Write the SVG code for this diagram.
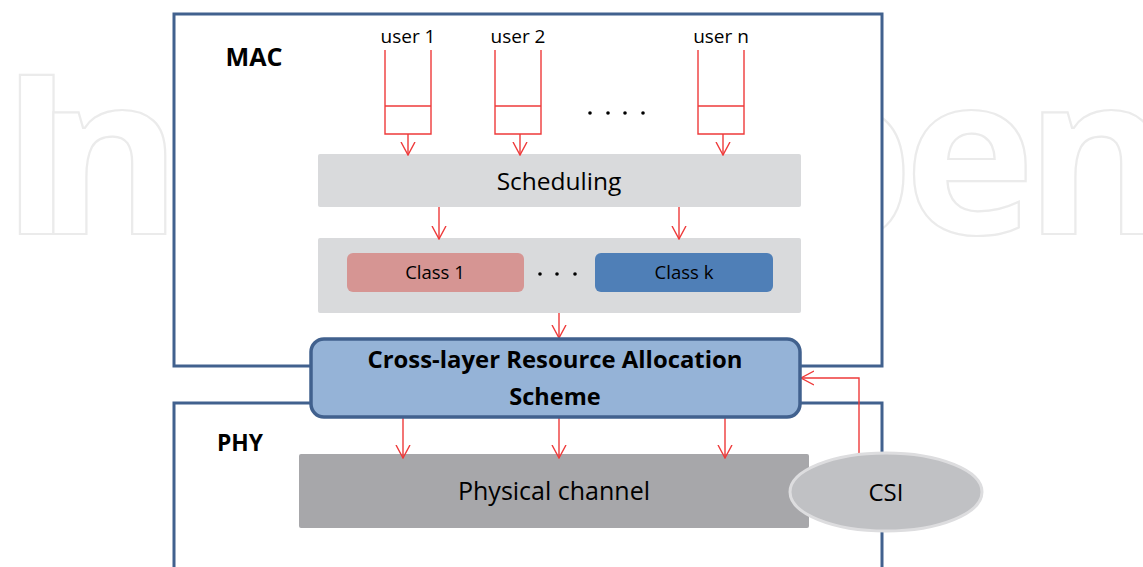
<svg xmlns="http://www.w3.org/2000/svg" width="1143" height="567" viewBox="0 0 1143 567">
<defs>
<style>
.wm{font-family:"Open Sans","Liberation Sans",sans-serif;font-weight:bold;font-size:222px;fill:#ffffff;stroke:#ebebeb;stroke-width:2.2}
.layer{fill:#ffffff;stroke:#41618e;stroke-width:3}
.t{font-family:"Open Sans","Liberation Sans",sans-serif;fill:#000000;text-anchor:middle}
.b{font-weight:bold}
.q{fill:none;stroke:#ee3a3a;stroke-width:1.4}
.c{fill:none;stroke:#ee3a3a;stroke-width:1.4;marker-end:url(#ah)}
.gray{fill:#d9dadc}
.dot{fill:#000000}
</style>
<marker id="ah" viewBox="0 0 14 16" refX="13" refY="8" markerWidth="14" markerHeight="16" orient="auto" markerUnits="userSpaceOnUse">
<path d="M0,1 L13,8 L0,15" fill="none" stroke="#ee3a3a" stroke-width="1.4"/>
</marker>
</defs>
<rect width="1143" height="567" fill="#ffffff"/>
<g id="watermark">
<text class="wm" x="0 36" y="234">In</text>
<text class="wm" x="773 904 1025" y="234">pen</text>
</g>

<g id="mac-layer">
<rect class="layer" x="174" y="14" width="708" height="352"/>
<text class="t b" x="254" y="66" font-size="25" textLength="57" lengthAdjust="spacingAndGlyphs">MAC</text>
</g>
<g id="phy-layer">
<rect class="layer" x="174" y="403" width="708" height="200"/>
<text class="t b" x="240" y="451" font-size="24" textLength="46" lengthAdjust="spacingAndGlyphs">PHY</text>
</g>

<g id="user1">
<text class="t" x="408" y="43" font-size="19">user 1</text>
<polyline class="q" points="385,50 385,134 431,134 431,50"/>
<line class="q" x1="385" y1="106" x2="431" y2="106"/>
</g>
<g id="user2">
<text class="t" x="518" y="43" font-size="19">user 2</text>
<polyline class="q" points="495,50 495,134 541,134 541,50"/>
<line class="q" x1="495" y1="106" x2="541" y2="106"/>
</g>
<g id="usern">
<text class="t" x="721" y="43" font-size="19">user n</text>
<polyline class="q" points="698,50 698,134 744,134 744,50"/>
<line class="q" x1="698" y1="106" x2="744" y2="106"/>
</g>
<g id="user-dots">
<circle class="dot" cx="590" cy="113" r="1.8"/>
<circle class="dot" cx="608" cy="113" r="1.8"/>
<circle class="dot" cx="625" cy="113" r="1.8"/>
<circle class="dot" cx="643" cy="113" r="1.8"/>
</g>

<g id="scheduling">
<rect class="gray" x="318" y="154" width="483" height="53" rx="2"/>
<text class="t" x="559" y="190" font-size="24.5">Scheduling</text>
</g>

<g id="classes">
<rect class="gray" x="318" y="238" width="483" height="75" rx="2"/>
<rect x="347" y="253" width="177" height="39" rx="6" fill="#d69593"/>
<text class="t" x="435" y="279" font-size="18.5">Class 1</text>
<circle class="dot" cx="540" cy="274" r="1.8"/>
<circle class="dot" cx="557" cy="274" r="1.8"/>
<circle class="dot" cx="575" cy="274" r="1.8"/>
<rect x="595" y="253" width="178" height="39" rx="6" fill="#4f7fb7"/>
<text class="t" x="684" y="279" font-size="18.5">Class k</text>
</g>

<g id="physical-channel">
<rect x="299" y="454" width="510" height="74" rx="2" fill="#a7a7aa"/>
<text class="t" x="554" y="500" font-size="25">Physical channel</text>
</g>

<g id="connectors">
<line class="c" x1="408" y1="134" x2="408" y2="155"/>
<line class="c" x1="520" y1="134" x2="520" y2="155"/>
<line class="c" x1="723" y1="134" x2="723" y2="155"/>
<line class="c" x1="439" y1="207" x2="439" y2="239"/>
<line class="c" x1="679" y1="207" x2="679" y2="239"/>
<line class="c" x1="559" y1="313" x2="559" y2="338"/>
<line class="c" x1="403" y1="417" x2="403" y2="458"/>
<line class="c" x1="559" y1="417" x2="559" y2="458"/>
<line class="c" x1="725" y1="417" x2="725" y2="458"/>
<polyline class="c" points="859,455 859,378 801,378"/>
</g>

<g id="cross-layer">
<rect x="311" y="339" width="489" height="78" rx="13" fill="#95b3d7" stroke="#41618e" stroke-width="3.5"/>
<text class="t b" x="555" y="368" font-size="23.5" textLength="375" lengthAdjust="spacingAndGlyphs">Cross-layer Resource Allocation</text>
<text class="t b" x="555" y="405" font-size="23.5">Scheme</text>
</g>

<g id="csi">
<ellipse cx="886" cy="492" rx="96" ry="39" fill="#c0c1c4" stroke="#dddddf" stroke-width="3"/>
<text class="t" x="886" y="501" font-size="24">CSI</text>
</g>
</svg>
